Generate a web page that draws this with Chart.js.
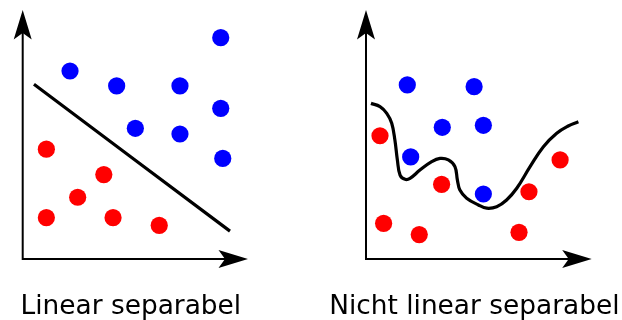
<!DOCTYPE html>
<html>
<head>
<meta charset="utf-8">
<script src="https://cdn.jsdelivr.net/npm/chart.js@4"></script>
<style>
  html, body { margin: 0; padding: 0; background: #fff; }
  #wrap { display: flex; width: 622px; height: 320px; }
  .box { position: relative; width: 311px; height: 320px; }
</style>
</head>
<body>
<div id="wrap">
  <div class="box"><canvas id="linksChart" width="311" height="320"></canvas></div>
  <div class="box"><canvas id="rechtsChart" width="311" height="320"></canvas></div>
</div>
<script>
// Linkes Diagramm: linear separabel
const linBlauX = [2.10, 4.17, 6.98, 8.79, 8.79, 5.00, 6.98, 8.88];
const linBlauY = [7.55, 6.95, 6.95, 8.89, 6.05, 5.25, 5.02, 4.04];
const linRotX = [1.05, 3.60, 2.44, 1.05, 4.01, 6.06];
const linRotY = [4.41, 3.39, 2.48, 1.66, 1.66, 1.35];
const linGrenzeX = [0.50, 9.20];
const linGrenzeY = [7.02, 1.12];

// Rechtes Diagramm: nicht linear separabel
const nlBlauX = [1.83, 4.79, 3.38, 5.20, 1.98, 5.20];
const nlBlauY = [6.99, 6.92, 5.29, 5.37, 4.10, 2.61];
const nlRotX = [0.62, 8.60, 3.35, 7.22, 0.78, 2.36, 6.78];
const nlRotY = [4.95, 3.98, 3.00, 2.70, 1.43, 0.98, 1.07];
const nlGrenzeX = [0.22, 0.62, 0.92, 1.14, 1.28, 1.39, 1.51, 1.73, 1.95, 2.39, 2.91, 3.28, 3.65, 3.94,
                   4.05, 4.16, 4.46, 4.98, 5.35, 5.79, 6.23, 6.68, 7.27, 7.86, 8.45, 8.96, 9.41];
const nlGrenzeY = [6.25, 6.12, 5.85, 5.45, 4.78, 3.98, 3.37, 3.20, 3.24, 3.57, 3.91, 4.04, 3.98, 3.71,
                   3.17, 2.77, 2.44, 2.17, 2.04, 2.10, 2.37, 2.84, 3.71, 4.51, 5.05, 5.34, 5.51];

const titel = ['Linear separabel', 'Nicht linear separabel'];

function punkte(xs, ys) {
    return xs.map((x, i) => ({ x: x, y: ys[i] }));
}

// Pfeilspitze zeichnen (Richtung: 'up' oder 'right')
function pfeil(ctx, x, y, richtung) {
    ctx.save();
    ctx.translate(x, y);
    if (richtung === 'right') ctx.rotate(Math.PI / 2);
    ctx.beginPath();
    ctx.moveTo(0, 0);
    ctx.lineTo(9, 29.5);
    ctx.lineTo(0, 23);
    ctx.lineTo(-9, 29.5);
    ctx.closePath();
    ctx.fillStyle = '#000';
    ctx.fill();
    ctx.restore();
}

const achsenPlugin = {
    id: 'achsen',
    afterDraw(chart, args, opts) {
        const ctx = chart.ctx;
        const xs = chart.scales.x, ys = chart.scales.y;
        const x0 = xs.getPixelForValue(0), y0 = ys.getPixelForValue(0);
        const xEnd = xs.getPixelForValue(10), yEnd = ys.getPixelForValue(10);
        ctx.save();
        ctx.strokeStyle = '#000';
        ctx.lineWidth = 2;
        ctx.beginPath();
        ctx.moveTo(x0, yEnd + 20);
        ctx.lineTo(x0, y0);
        ctx.lineTo(xEnd - 20, y0);
        ctx.stroke();
        pfeil(ctx, x0, yEnd, 'up');
        pfeil(ctx, xEnd, y0, 'right');
        // Beschriftung unter dem Diagramm
        ctx.font = '26.4px "DejaVu Sans"';
        ctx.fillStyle = '#000';
        ctx.textAlign = 'center';
        ctx.textBaseline = 'alphabetic';
        ctx.fillText(opts.text, xs.getPixelForValue(4.8), 314);
        ctx.restore();
    }
};

function createChart(canvasId, blau, rot, grenze, text, padding) {
    const ctx = document.getElementById(canvasId).getContext('2d');
    new Chart(ctx, {
        type: 'scatter',
        data: {
            datasets: [
                {
                    data: grenze,
                    showLine: true,
                    borderColor: '#000',
                    borderWidth: 3.2,
                    pointRadius: 0,
                    tension: 0.4,
                    order: 3
                },
                {
                    data: blau,
                    backgroundColor: '#0000ff',
                    borderWidth: 0,
                    pointRadius: 8.6,
                    order: 1
                },
                {
                    data: rot,
                    backgroundColor: '#ff0000',
                    borderWidth: 0,
                    pointRadius: 8.6,
                    order: 2
                }
            ]
        },
        options: {
            responsive: false,
            animation: false,
            layout: { padding: padding },
            scales: {
                x: { display: false, min: 0, max: 10 },
                y: { display: false, min: 0, max: 10 }
            },
            plugins: {
                legend: { display: false },
                tooltip: { enabled: false },
                achsen: { text: text }
            }
        },
        plugins: [achsenPlugin]
    });
}

createChart('linksChart', punkte(linBlauX, linBlauY), punkte(linRotX, linRotY),
    punkte(linGrenzeX, linGrenzeY), titel[0], { left: 22.7, right: 63, top: 10, bottom: 61 });
createChart('rechtsChart', punkte(nlBlauX, nlBlauY), punkte(nlRotX, nlRotY),
    punkte(nlGrenzeX, nlGrenzeY), titel[1], { left: 55, right: 30.3, top: 10, bottom: 61 });
</script>
</body>
</html>
